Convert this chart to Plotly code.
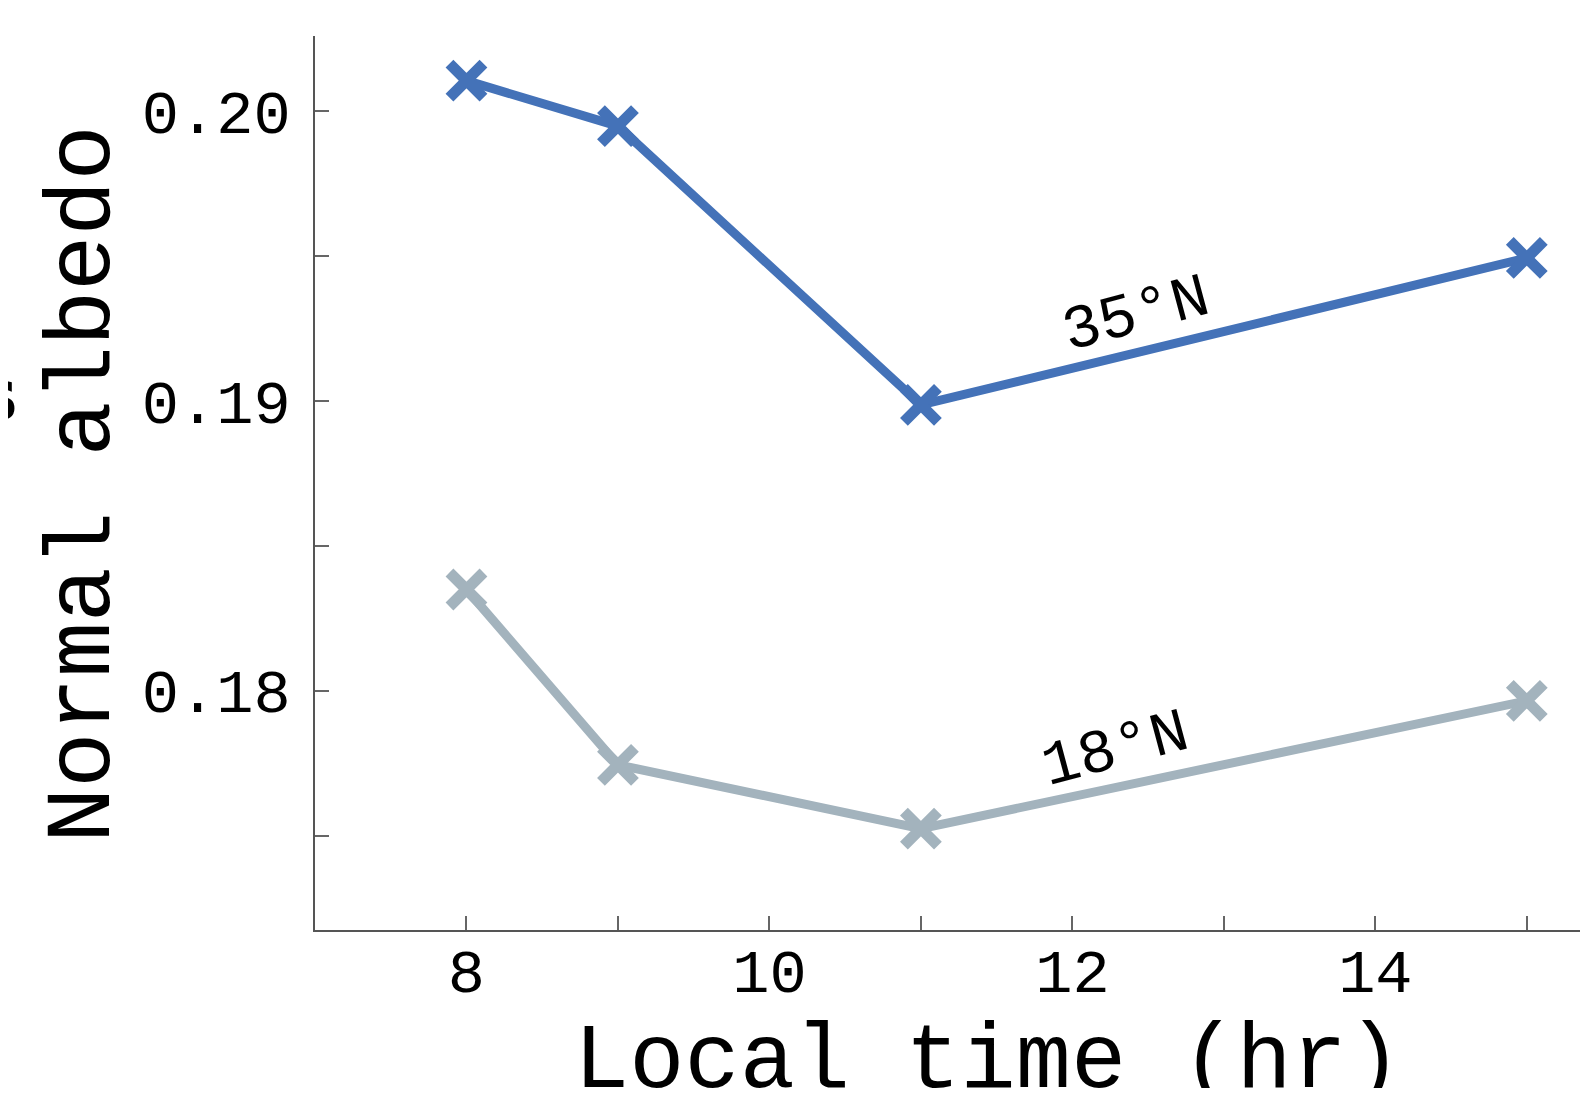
import plotly.graph_objects as go

hours = [8, 9, 11, 15]
albedo_35n = [0.20105, 0.19948, 0.18986, 0.19493]
albedo_18n = [0.18349, 0.17744, 0.17524, 0.17965]

x_tickvals = [8, 9, 10, 11, 12, 13, 14, 15]
x_ticktext = ["8", "", "10", "", "12", "", "14", ""]
y_tickvals = [0.175, 0.18, 0.185, 0.19, 0.195, 0.20]
y_ticktext = ["", "0.18", "", "0.19", "", "0.20"]

FONT = "Liberation Mono, Courier New, monospace"
BLUE = "#4472B8"
GREY = "#A3B3BD"

fig = go.Figure()
for ys, col in [(albedo_18n, GREY), (albedo_35n, BLUE)]:
    fig.add_trace(go.Scatter(
        x=hours, y=ys, mode="lines+markers",
        line=dict(color=col, width=9),
        marker=dict(symbol="x-thin", size=34, line=dict(color=col, width=11), color=col),
        showlegend=False, cliponaxis=False,
    ))

OFF = 8  # default body margin of the page
W, H = 1590, 1080
L, T = 315 - OFF, 36 - OFF
B = H - (930 - OFF)
R = W - (1588 - OFF) + 0  # plot area right edge at page x=1588
R = 0

# x range chosen so 8..15 land at the reference tick positions
fig.update_layout(
    width=W, height=H,
    margin=dict(l=L, r=R, t=T, b=B, pad=0),
    paper_bgcolor="white", plot_bgcolor="white",
    font=dict(family=FONT, color="black"),
    xaxis=dict(
        range=[7.0, 15.47], tickvals=x_tickvals, ticktext=x_ticktext,
        ticks="inside", ticklen=14, tickwidth=1.5, tickcolor="#666",
        showline=True, linecolor="#555", linewidth=2, showgrid=False, zeroline=False,
        tickfont=dict(family=FONT, size=62, color="black"), ticklabelstandoff=-14,
    ),
    yaxis=dict(
        range=[0.17174, 0.20259], tickvals=y_tickvals, ticktext=y_ticktext,
        ticks="inside", ticklen=14, tickwidth=1.5, tickcolor="#666",
        showline=True, linecolor="#555", linewidth=2, showgrid=False, zeroline=False,
        tickfont=dict(family=FONT, size=62, color="black"), ticklabelstandoff=10,
    ),
)

def px_to_paper_x(px):
    return (px - OFF - L) / (W - L - R)

def px_to_paper_y(py):
    return (H - B - (py - OFF)) / (H - B - T)

fig.add_annotation(text="Local time (hr)", xref="paper", yref="paper",
                   x=px_to_paper_x(988), y=px_to_paper_y(1062), showarrow=False,
                   xanchor="center", yanchor="middle",
                   font=dict(family=FONT, size=92, color="black"))
fig.add_annotation(text="Normal albedo", xref="paper", yref="paper",
                   x=px_to_paper_x(84), y=px_to_paper_y(484), showarrow=False,
                   xanchor="center", yanchor="middle", textangle=-90,
                   font=dict(family=FONT, size=92, color="black"))
fig.add_annotation(text="35°N", xref="paper", yref="paper",
                   x=px_to_paper_x(1136), y=px_to_paper_y(316), showarrow=False,
                   xanchor="center", yanchor="middle", textangle=-15,
                   font=dict(family=FONT, size=62, color="black"))
fig.add_annotation(text="18°N", xref="paper", yref="paper",
                   x=px_to_paper_x(1115), y=px_to_paper_y(750), showarrow=False,
                   xanchor="center", yanchor="middle", textangle=-15,
                   font=dict(family=FONT, size=62, color="black"))
fig.add_annotation(text="<b>s</b>", xref="paper", yref="paper",
                   x=px_to_paper_x(20), y=px_to_paper_y(395), showarrow=False,
                   xanchor="right", yanchor="middle",
                   font=dict(family="DejaVu Sans", size=72, color="black"))

fig.write_html("out.html")
